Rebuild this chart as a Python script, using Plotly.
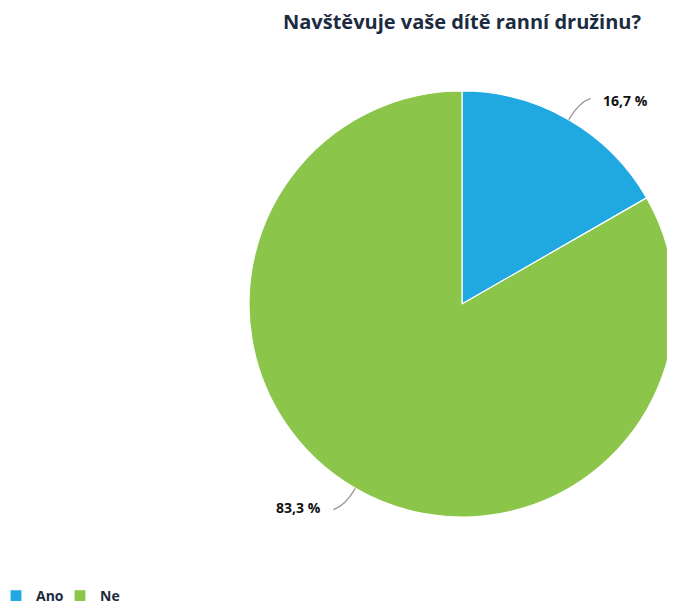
import math
import plotly.graph_objects as go

# data
labels = ["Ano", "Ne"]
values = [16.7, 83.3]
colors = ["#20a8e0", "#8bc54a"]
title = "Navštěvuje vaše dítě ranní družinu?"

# the page body has an 8px margin, so the figure is placed at (8, 8)
OFF = 8
W, H = 675 - OFF, 606 - OFF
cx, cy, R = 462, 304, 213  # pie centre / radius in screen pixels


def px(x):
    return (x - OFF) / W


def py(y):
    return 1 - (y - OFF) / H


fig = go.Figure()
fig.add_trace(go.Pie(
    labels=labels, values=values, sort=False, direction="clockwise", rotation=0,
    marker=dict(colors=colors, line=dict(color="white", width=1.2)),
    textinfo="none", hoverinfo="label+percent",
    domain=dict(x=[px(cx - R), min(1, px(cx + R))], y=[py(cy + R), py(cy - R)]),
))

# outside labels with curved leader lines, placed from the slice angles
shapes, annotations = [], []
total = sum(values)
start = 0.0
for lab, v in zip(labels, values):
    mid = math.radians((start + v / 2) / total * 360)
    start += v
    s, c = math.sin(mid), math.cos(mid)
    x0, y0 = cx + R * s, cy - R * c
    x1, y1 = cx + (R + 20) * s, cy - (R + 20) * c
    side = 1 if s >= 0 else -1
    x2, y2 = x1 + side * 12, y1 - 4 * side
    shapes.append(dict(
        type="path", xref="paper", yref="paper",
        path=f"M {px(x0)},{py(y0)} Q {px(x1)},{py(y1)} {px(x2)},{py(y2)}",
        line=dict(color="#9a9a9a", width=1.3),
    ))
    txt = f"{v / total * 100:.1f} %".replace(".", ",")
    annotations.append(dict(
        xref="paper", yref="paper", x=px(x2 + side * 10), y=py(y2 + 2 * side),
        text=txt, showarrow=False, xanchor="left" if side > 0 else "right", yanchor="middle",
        font=dict(family="Open Sans", size=14, color="#111111", weight="bold"),
    ))

fig.update_layout(
    width=W, height=H,
    margin=dict(l=0, r=0, t=0, b=0, autoexpand=False),
    paper_bgcolor="white", plot_bgcolor="white",
    title=dict(text=title, x=px(462), y=py(22), xanchor="center", yanchor="middle",
               font=dict(family="Open Sans", size=20, color="#1c2b3f", weight="bold")),
    legend=dict(orientation="h", x=-12 / W, y=py(596), xanchor="left", yanchor="middle",
                font=dict(family="Open Sans", size=14, color="#1c2b3f", weight="bold"),
                itemwidth=30, entrywidth=19, entrywidthmode="pixels"),
    shapes=shapes, annotations=annotations,
)

fig.write_html("out.html")
